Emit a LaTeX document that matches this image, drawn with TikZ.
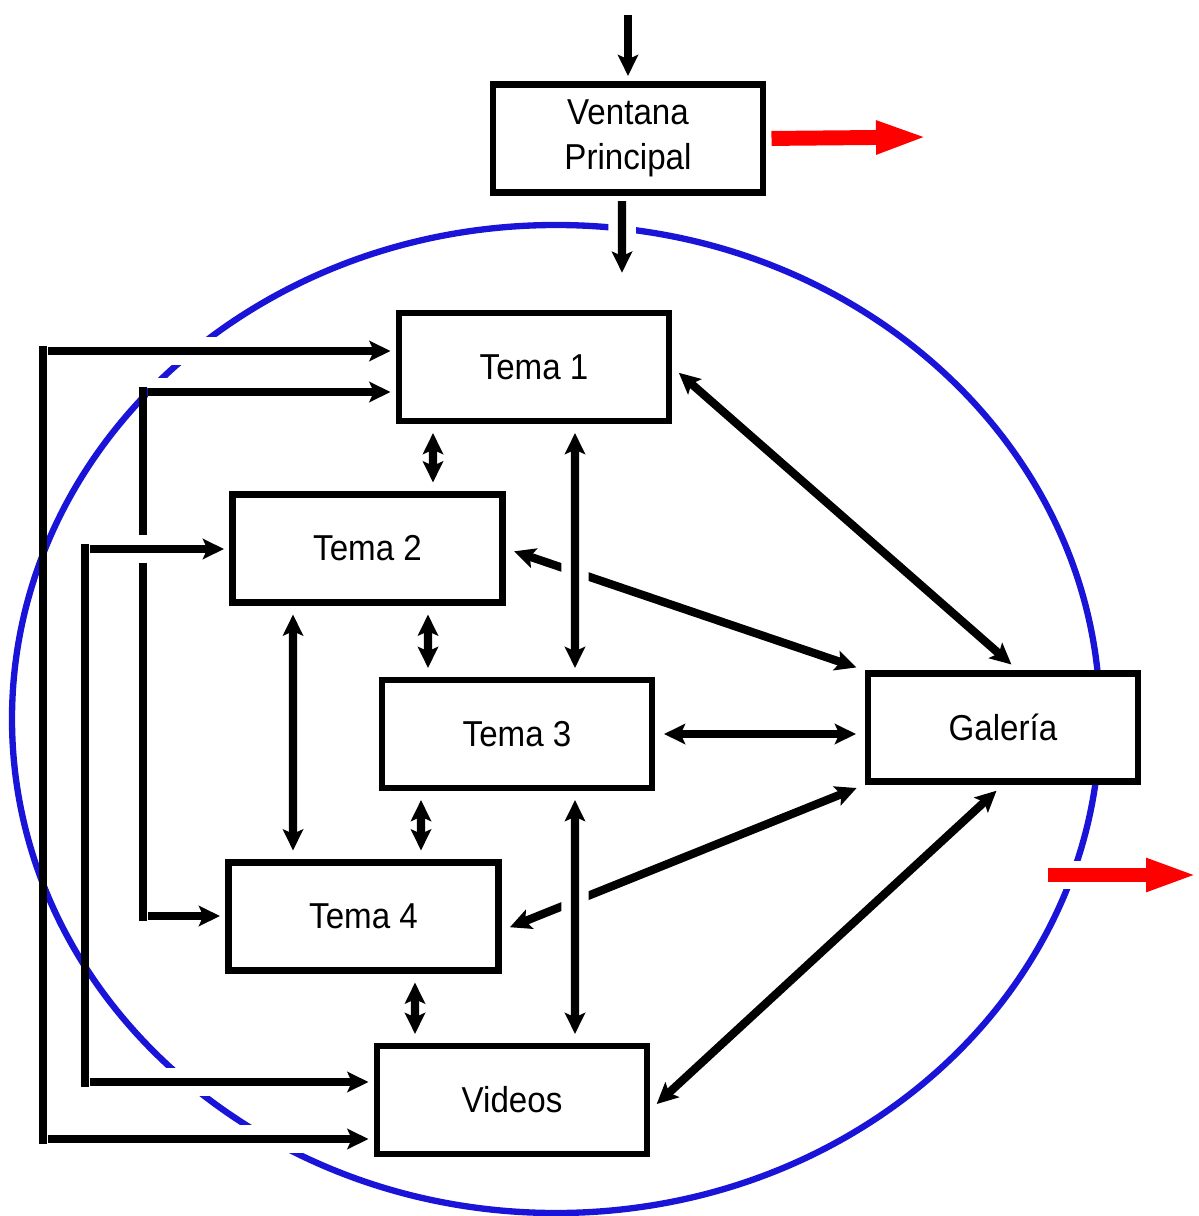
\documentclass[tikz,border=0pt]{standalone}
\usepackage{fontspec}
\setmainfont{Liberation Sans}[FakeStretch=0.92]
\usetikzlibrary{arrows.meta}

\definecolor{azul}{RGB}{25,20,215}

\tikzset{
  >={Stealth[length=12pt,width=11.5pt,inset=2.5pt]},
  caja/.style={draw,line width=3.7pt,fill=white,minimum width=5.4cm,minimum height=2.16cm,
    inner sep=0pt,align=center,font=\fontsize{20.5}{25.5}\selectfont},
  linea/.style={line width=4.7pt},
  flecha/.style={linea,->,shorten >=3pt},
  doble/.style={linea,<->,shorten >=5pt,shorten <=5pt},
  corte/.style={preaction={draw=white,line width=0.55cm,-}},
  salida/.style={red,line width=8.5pt,-{Triangle[length=1.04cm,width=0.6cm]}}
}

\begin{document}
\begin{tikzpicture}[x=0.02cm,y=-0.02cm]
    \useasboundingbox (0,0) rectangle (1198,1216);
    \draw[azul,line width=3.6pt] (556,719) ellipse [x radius=544,y radius=494];

    \node[caja] (vp) at (628,138.5) {Ventana\\Principal};
    \node[caja] (t1) at (534,367) {Tema 1};
    \node[caja] (t2) at (367.5,548.5) {Tema 2};
    \node[caja] (t3) at (517,734) {Tema 3};
    \node[caja] (t4) at (363.5,916.5) {Tema 4};
    \node[caja] (vid) at (512,1100) {Videos};
    \node[caja] (gal) at (1003,727.5) {Galería};

    \coordinate (entrada) at (628,15);
    \coordinate (abajo) at (622,278);
    \coordinate (fin1) at (928,137);
    \coordinate (s2a) at (1048,875);
    \coordinate (s2b) at (1198,875);
    \coordinate (ea) at (43,346);
    \coordinate (eb) at (43,1144);
    \coordinate (fa) at (143,387);
    \coordinate (fb) at (143,921);
    \coordinate (ga) at (85,544);
    \coordinate (gb) at (85,1087);

    \draw[flecha] (entrada) -- (vp.north);
    \draw[flecha,corte,shorten <=3pt] ([xshift=-0.12cm]vp.south) -- (abajo);
    \draw[salida,shorten <=3pt] (vp.east) -- (fin1);
    \draw[salida,corte] (s2a) -- (s2b);

    \draw[doble] (t1.east) -- ([xshift=0.3cm]gal.north);
    \draw[doble] (t2.east) -- (gal.north west);
    \draw[doble] (t3.east) -- (t3.east -| gal.west);
    \draw[doble] (gal.south west) -- ([yshift=-0.28cm]t4.east);
    \draw[doble] (gal.south) -- ([yshift=-0.2cm]vid.east);

    \draw[doble] ([xshift=-2.02cm]t1.south) -- ([xshift=1.31cm]t2.north);
    \draw[doble,corte] ([xshift=0.82cm]t1.south) -- ([xshift=1.16cm]t3.north);
    \draw[doble] ([xshift=1.21cm]t2.south) -- ([xshift=-1.78cm]t3.north);
    \draw[doble] ([xshift=-1.49cm]t2.south) -- ([xshift=-1.41cm]t4.north);
    \draw[doble] ([xshift=-1.92cm]t3.south) -- ([xshift=1.15cm]t4.north);
    \draw[doble,corte] ([xshift=1.16cm]t3.south) -- ([xshift=1.26cm]vid.north);
    \draw[doble] ([xshift=1.03cm]t4.south) -- ([xshift=-1.94cm]vid.north);

    \draw[linea] (ea) -- (eb);
    \draw[linea] (fa) -- (fb);
    \draw[linea] (ga) -- (gb);
    \draw[flecha,corte] ([xshift=0.1cm,yshift=-0.1cm]ea) -- ([yshift=-0.1cm]ea -| t1.west);
    \draw[flecha,corte] ([xshift=0.1cm,yshift=-0.1cm]fa) -- ([yshift=-0.1cm]fa -| t1.west);
    \draw[flecha,corte] ([xshift=0.1cm,yshift=-0.1cm]ga) -- ([yshift=-0.1cm]ga -| t2.west);
    \draw[flecha,corte] ([xshift=0.1cm,yshift=0.1cm]fb) -- ([yshift=0.1cm]fb -| t4.west);
    \draw[flecha,corte] ([xshift=0.1cm,yshift=0.1cm]gb) -- ([yshift=0.1cm]gb -| vid.west);
    \draw[flecha,corte] ([xshift=0.1cm,yshift=0.1cm]eb) -- ([yshift=0.1cm]eb -| vid.west);
\end{tikzpicture}
\end{document}
